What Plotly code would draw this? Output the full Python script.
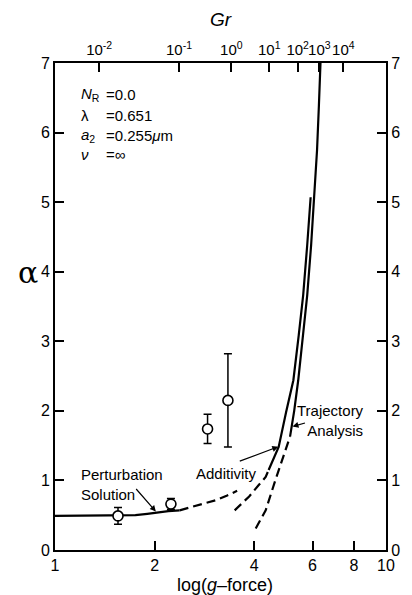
import numpy as np
import plotly.graph_objects as go

# ---- data (x = g-force value on log axis, y = alpha) ----
pert_solid_x = [1.0, 1.3, 1.6, 1.75, 1.9, 2.02, 2.2, 2.38]
pert_solid_y = [0.49, 0.49, 0.49, 0.50, 0.52, 0.54, 0.56, 0.57]
pert_dash_x = [2.38, 2.7, 3.08, 3.3, 3.55]
pert_dash_y = [0.57, 0.64, 0.72, 0.78, 0.85]

add_dash_x = [3.49, 3.86, 4.12, 4.33, 4.42]
add_dash_y = [0.57, 0.77, 0.93, 1.05, 1.15]
add_solid_x = [4.42, 4.74, 4.99, 5.25, 5.45, 5.62, 5.78, 5.92]
add_solid_y = [1.15, 1.48, 1.98, 2.44, 3.09, 3.66, 4.38, 5.07]

traj_dash_x = [4.04, 4.33, 4.63, 4.90, 5.13]
traj_dash_y = [0.31, 0.57, 1.0, 1.34, 1.63]
traj_solid_x = [5.13, 5.28, 5.43, 5.62, 5.78, 5.94, 6.08, 6.19, 6.27, 6.34]
traj_solid_y = [1.63, 2.0, 2.44, 3.09, 3.66, 4.38, 5.07, 5.75, 6.39, 7.0]

exp_x = [1.55, 2.24, 2.89, 3.33]
exp_y = [0.49, 0.66, 1.74, 2.15]
exp_err = [0.12, 0.08, 0.21, 0.67]

gr_tick_pos = [1.36, 2.37, 3.41, 4.44, 5.41, 6.29, 7.43]
gr_tick_text = ["10<sup>-2</sup>", "10<sup>-1</sup>", "10<sup>0</sup>", "10<sup>1</sup>",
                "10<sup>2</sup>", "10<sup>3</sup>", "10<sup>4</sup>"]
x_ticks = [1, 2, 4, 6, 8, 10]
y_ticks = [0, 1, 2, 3, 4, 5, 6, 7]

FONT = "Liberation Sans, Arial, sans-serif"
LW = 2.2
DASH = "9px,5px"

fig = go.Figure()

def line(x, y, dash="solid"):
    fig.add_trace(go.Scatter(x=x, y=y, mode="lines",
                             line=dict(color="black", width=LW, dash=dash),
                             showlegend=False, hoverinfo="skip"))

line(pert_solid_x, pert_solid_y)
line(pert_dash_x, pert_dash_y, DASH)
line(add_dash_x, add_dash_y, DASH)
line(add_solid_x, add_solid_y)
line(traj_dash_x, traj_dash_y, DASH)
line(traj_solid_x, traj_solid_y)

fig.add_trace(go.Scatter(
    x=exp_x, y=exp_y, mode="markers",
    marker=dict(symbol="circle", size=10, color="white",
                line=dict(color="black", width=1.6)),
    error_y=dict(type="data", array=exp_err, visible=True,
                 color="black", thickness=1.5, width=4),
    showlegend=False, hoverinfo="skip"))

# invisible traces to activate the top and right axes
fig.add_trace(go.Scatter(x=[1, 10], y=[0, 0], xaxis="x2", yaxis="y",
                         mode="markers", marker=dict(opacity=0),
                         showlegend=False, hoverinfo="skip"))
fig.add_trace(go.Scatter(x=[1, 10], y=[0, 0], xaxis="x", yaxis="y2",
                         mode="markers", marker=dict(opacity=0),
                         showlegend=False, hoverinfo="skip"))

axis_common = dict(showline=True, linecolor="black", linewidth=2,
                   ticks="inside", ticklen=9, tickwidth=2, tickcolor="black",
                   showgrid=False, zeroline=False,
                   tickfont=dict(family=FONT, size=16, color="black"))

fig.update_layout(
    width=412, height=595,
    margin=dict(l=55, r=19, t=63, b=45),
    paper_bgcolor="white", plot_bgcolor="white",
    font=dict(family=FONT, color="black"),
    xaxis=dict(type="log", range=[0, 1], tickvals=x_ticks,
               ticktext=[str(v) for v in x_ticks], **axis_common),
    xaxis2=dict(type="log", range=[0, 1], overlaying="x", side="top",
                tickvals=gr_tick_pos, ticktext=gr_tick_text, tickangle=0,
                **{**axis_common, "tickfont": dict(family=FONT, size=15, color="black")}),
    yaxis=dict(range=[0, 7], tickvals=y_ticks, **axis_common),
    yaxis2=dict(range=[0, 7], overlaying="y", side="right", tickvals=y_ticks,
                **axis_common),
)

def lx(px):
    return (px - 55) / 338.0

def ay_(py):
    return (550 - py) / 69.6

def paper_xy(px, py):
    return (px - 55) / 338.0, (550 - py) / 487.0

ann = []
# axis titles
px_, py_ = paper_xy(27, 272)
ann.append(dict(text="α", xref="paper", yref="paper", x=px_, y=py_,
                xanchor="center", yanchor="middle", showarrow=False,
                font=dict(family="DejaVu Serif", size=30)))
px_, py_ = paper_xy(224, 20)
ann.append(dict(text="<i>Gr</i>", xref="paper", yref="paper", x=px_, y=py_,
                xanchor="center", yanchor="middle", showarrow=False,
                font=dict(family=FONT, size=19)))
px_, py_ = paper_xy(229, 585)
ann.append(dict(text="log(<i>g</i>–force)", xref="paper", yref="paper", x=px_, y=py_,
                xanchor="center", yanchor="middle", showarrow=False,
                font=dict(family=FONT, size=18)))

# parameter block
labels = ["<i>N</i><sub>R</sub>", "λ", "<i>a</i><sub>2</sub>", "<i>ν</i>"]
values = ["=0.0", "=0.651", "=0.255<i>μ</i>m", "=∞"]
rows_py = [94, 115, 135, 154]
for lab, val, py in zip(labels, values, rows_py):
    ann.append(dict(text=lab, x=lx(79), y=ay_(py), xanchor="left", yanchor="middle",
                    showarrow=False, font=dict(family=FONT, size=15)))
    ann.append(dict(text=val, x=lx(105), y=ay_(py), xanchor="left", yanchor="middle",
                    showarrow=False, font=dict(family=FONT, size=15)))

# curve labels
ann.append(dict(text="Perturbation<br>Solution", x=lx(79), y=ay_(484),
                xanchor="left", yanchor="middle", align="left", showarrow=False,
                font=dict(family=FONT, size=15)))
ann.append(dict(text="Additivity", x=lx(230), y=ay_(473),
                xanchor="center", yanchor="middle", showarrow=False,
                font=dict(family=FONT, size=15)))
ann.append(dict(text="Trajectory<br>Analysis", x=lx(373), y=ay_(420),
                xanchor="right", yanchor="middle", align="right", showarrow=False,
                font=dict(family=FONT, size=15)))

# arrows
for tip, off in [((158, 511.5), (-21, -24)),
                 ((283, 446.7), (-40, 15)),
                 ((297.5, 426.5), (14, -4))]:
    ann.append(dict(text="", x=lx(tip[0]), y=ay_(tip[1]), ax=off[0], ay=off[1],
                    showarrow=True, arrowhead=2, arrowsize=1, arrowwidth=1.2,
                    arrowcolor="black"))

fig.update_layout(annotations=ann)
fig.write_html("out.html")
